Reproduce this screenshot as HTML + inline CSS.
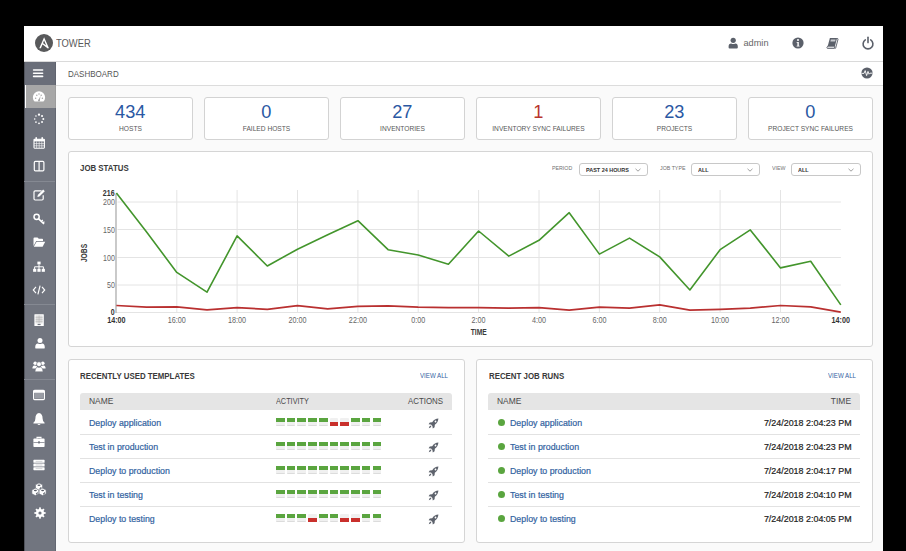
<!DOCTYPE html>
<html><head><meta charset="utf-8">
<style>
*{box-sizing:border-box;margin:0;padding:0}
html,body{width:906px;height:551px;overflow:hidden;background:#000}
body{position:relative;font-family:"Liberation Sans",sans-serif;color:#333}
.a{position:absolute}
#hdr{left:24px;top:26px;width:859px;height:36px;background:#fff;border-bottom:1.6px solid #dadada}
#side{left:24px;top:61.5px;width:32px;height:490px;background:#71757f;border-right:1.5px solid #636772;border-left:1px solid #50535b}
#crumb{left:56px;top:62px;width:827px;height:24px;background:#fff;border-bottom:1.5px solid #dcdcdc}
#content{left:56px;top:86px;width:827px;height:465px;background:#fafafa}
.card{background:#fff;border:1px solid #d3d3d3;border-radius:3px;width:125px;height:43px;top:97px;text-align:center}
.card .n{position:absolute;left:-0.5px;right:0;top:3.6px;font-size:18.2px;line-height:20px;color:#2a58a3}
.card .l{position:absolute;left:0;right:0;top:25.6px;font-size:7.9px;line-height:10px;color:#585858;transform:scaleX(0.84)}
.panel{background:#fff;border:1.2px solid #d5d5d5;border-radius:3px}
.ptitle{font-weight:bold;font-size:9.6px;color:#3a3a3a;line-height:12px;transform:scaleX(0.82);transform-origin:0 0;white-space:nowrap}
.flabel{font-size:6px;color:#707070;line-height:8px;transform:scaleX(0.88);transform-origin:0 0}
.sel{border:1px solid #c8c8c8;border-radius:3px;height:12.5px;background:#fff;font-size:6.2px;font-weight:bold;color:#333;line-height:11.2px;padding-left:6px}
.sel span{display:inline-block;transform:scaleX(0.88);transform-origin:0 0}
.sel svg{position:absolute;right:6.5px;top:3.6px}
.th{background:#e5e5e5;height:17px;border-radius:3px 3px 0 0;font-size:8.8px;color:#4a4a4a;line-height:17.6px}
.row{height:24px;border-bottom:1px solid #e1e1e1;font-size:9.2px;color:#31629f;line-height:23px}
.va{font-size:7.4px;color:#31629f;line-height:10px;transform:scaleX(0.83);transform-origin:0 0;white-space:nowrap}
.si{position:absolute;left:0;width:31px;height:23.5px}
.sep{position:absolute;left:0;width:31px;height:1px;background:#858992}
.rt{font-size:9.2px;color:#31629f;line-height:12px;white-space:nowrap;transform:scaleX(0.96);transform-origin:0 0}
.tm{font-size:9px;color:#222;line-height:12px;white-space:nowrap;transform:scaleX(0.99);transform-origin:100% 0}
.blk{width:8.7px;height:8px;background:#f0f0f0;border-bottom:1px solid #dcdcdc;border-radius:1px}
.blk i{position:absolute;left:0;right:0;height:3.8px}
.dot{width:7px;height:7px;border-radius:50%;background:#5aa53f}
.rt,.tm{-webkit-text-stroke:0.2px currentColor}
</style></head><body>
<div id="hdr" class="a"></div>
<!-- logo -->
<svg class="a" style="left:35px;top:34.2px" width="18" height="18" viewBox="0 0 18 18"><circle cx="9" cy="9" r="9" fill="#58595b"/><path d="M9.1 3.3 L4.3 14.3 H5.9 L9.1 6.6 L11.2 11.6 L7.9 9.1 L7.3 10.3 L12.5 14.2 Q13.5 14.8 13.8 13.8 Z" fill="#fff"/></svg>
<div class="a" style="left:55.9px;top:35.8px;font-size:10.8px;line-height:14px;color:#5a5a5a;transform:scaleX(0.87);transform-origin:0 0">TOWER</div>

<div id="side" class="a"></div>
<div id="crumb" class="a"></div>
<div class="a" style="left:24px;top:61.5px;width:32px;height:23.3px;background:#6a6e79;border-right:1.5px solid #60646f;border-left:1px solid #50535b"></div>
<div class="a" style="left:25px;top:84.8px;width:31px;height:23.2px;background:#a7a7a7;border-left:1.5px solid #fff;border-right:1.5px solid #9c9c9c"></div>
<div class="a sep" style="left:24px;top:181px"></div>
<div class="a sep" style="left:24px;top:304px"></div>
<div class="a sep" style="left:24px;top:379px"></div>
<svg class="a" style="left:31.00px;top:67.20px" width="14" height="12" viewBox="0 0 14 12"><g stroke="#fff" stroke-width="1.6" stroke-linecap="round"><line x1="2.6" y1="3" x2="11.6" y2="3"/><line x1="2.6" y1="6.2" x2="11.6" y2="6.2"/><line x1="2.6" y1="9.4" x2="11.6" y2="9.4"/></g></svg>
<svg class="a" style="left:31.80px;top:90.10px" width="14" height="14" viewBox="0 0 14 14"><path d="M2.6 11.6 A6.1 6.1 0 1 1 11.4 11.6 Z" fill="#fff"/><g fill="#a7a7a7"><circle cx="3.6" cy="8.2" r="0.75"/><circle cx="4.8" cy="5.2" r="0.75"/><circle cx="7" cy="4" r="0.75"/><circle cx="9.2" cy="5.2" r="0.75"/><circle cx="10.4" cy="8.2" r="0.75"/><path d="M6.2 10.6 L8.6 5.8 L7.8 10.6Z"/><circle cx="7" cy="10.4" r="1"/></g></svg>
<svg class="a" style="left:32.20px;top:112.40px" width="14" height="14" viewBox="0 0 14 14"><circle cx="7.00" cy="2.70" r="1.15" fill="#fff"/><circle cx="10.04" cy="3.96" r="1.05" fill="#fff"/><circle cx="11.30" cy="7.00" r="1.00" fill="#fff"/><circle cx="10.04" cy="10.04" r="0.95" fill="#fff"/><circle cx="7.00" cy="11.30" r="0.90" fill="#fff"/><circle cx="3.96" cy="10.04" r="0.85" fill="#fff"/><circle cx="2.70" cy="7.00" r="0.80" fill="#fff"/><circle cx="3.96" cy="3.96" r="0.80" fill="#fff"/></svg>
<svg class="a" style="left:32.20px;top:136.00px" width="14" height="14" viewBox="0 0 14 14"><rect x="2" y="3.2" width="10.4" height="9" rx="0.6" fill="none" stroke="#fff" stroke-width="1.1"/><rect x="2" y="3.2" width="10.4" height="2.2" fill="#fff"/><rect x="3.4" y="1" width="1.6" height="3" rx="0.8" fill="#fff"/><rect x="9.4" y="1" width="1.6" height="3" rx="0.8" fill="#fff"/><g stroke="#fff" stroke-width="0.6"><line x1="4.6" y1="5.4" x2="4.6" y2="12"/><line x1="7.2" y1="5.4" x2="7.2" y2="12"/><line x1="9.8" y1="5.4" x2="9.8" y2="12"/><line x1="2" y1="7.6" x2="12.4" y2="7.6"/><line x1="2" y1="9.8" x2="12.4" y2="9.8"/></g></svg>
<svg class="a" style="left:32.20px;top:159.30px" width="14" height="14" viewBox="0 0 14 14"><rect x="2.3" y="2.3" width="9.6" height="9.6" rx="1.1" fill="none" stroke="#fff" stroke-width="1.2"/><line x1="7.1" y1="2.4" x2="7.1" y2="11.8" stroke="#fff" stroke-width="1.2"/></svg>
<svg class="a" style="left:32.20px;top:188.20px" width="14" height="14" viewBox="0 0 14 14"><path d="M9.6 2.8 H3.2 Q2 2.8 2 4 V10.8 Q2 12 3.2 12 H10 Q11.2 12 11.2 10.8 V7.2" fill="none" stroke="#fff" stroke-width="1.2"/><path d="M5.4 9 L5.8 7 L11.2 1.6 L12.8 3.2 L7.4 8.6Z" fill="#fff"/></svg>
<svg class="a" style="left:32.20px;top:212.00px" width="14" height="14" viewBox="0 0 14 14"><circle cx="4.6" cy="4.8" r="2.6" fill="none" stroke="#fff" stroke-width="1.5"/><path d="M6.4 6.6 L12 12" stroke="#fff" stroke-width="1.6"/><path d="M9.4 9.4 L10.8 8 M11 11 L12.4 9.6" stroke="#fff" stroke-width="1.3"/></svg>
<svg class="a" style="left:32.00px;top:235.30px" width="14" height="14" viewBox="0 0 14 14"><path d="M1.5 3.5 Q1.5 2.5 2.5 2.5 H5.5 L6.8 3.8 H10.2 Q11 3.8 11 4.6 V6 H4.2 L1.5 11Z" fill="#fff"/><path d="M4.6 6.8 H13.2 L10.6 11.8 H1.8Z" fill="#fff"/></svg>
<svg class="a" style="left:32.20px;top:260.00px" width="14" height="14" viewBox="0 0 14 14"><rect x="5.4" y="1.6" width="3.2" height="2.8" fill="#fff"/><path d="M7 4.4 V9 M2.6 9 V6.8 H11.4 V9" fill="none" stroke="#fff" stroke-width="1"/><rect x="1.1" y="8.8" width="3.2" height="3" fill="#fff"/><rect x="5.4" y="8.8" width="3.2" height="3" fill="#fff"/><rect x="9.7" y="8.8" width="3.2" height="3" fill="#fff"/></svg>
<svg class="a" style="left:32.20px;top:283.30px" width="14" height="14" viewBox="0 0 14 14"><path d="M4 3.9 L1.3 7 L4 10.1 M10 3.9 L12.7 7 L10 10.1 M8.1 2.6 L5.9 11.4" fill="none" stroke="#fff" stroke-width="1.15"/></svg>
<svg class="a" style="left:32.40px;top:312.60px" width="14" height="14" viewBox="0 0 14 14"><rect x="2.4" y="1.2" width="9.4" height="11.8" rx="0.5" fill="#fff"/><rect x="3.6" y="2.4" width="7" height="8" fill="#dedede"/><g stroke="#b0b0b0" stroke-width="0.5"><line x1="3.6" y1="4.4" x2="10.6" y2="4.4"/><line x1="3.6" y1="6.4" x2="10.6" y2="6.4"/><line x1="3.6" y1="8.4" x2="10.6" y2="8.4"/><line x1="7.1" y1="2.4" x2="7.1" y2="10.4"/></g><rect x="5.6" y="10.9" width="3" height="1.2" fill="#71757f"/></svg>
<svg class="a" style="left:32.70px;top:335.60px" width="14" height="14" viewBox="0 0 14 14"><circle cx="7" cy="4.4" r="2.5" fill="#fff"/><path d="M2.2 11.4 Q2.2 7.6 5 7.4 Q7 8.6 9 7.4 Q11.8 7.6 11.8 11.4 Q11.8 12.6 10.6 12.6 H3.4 Q2.2 12.6 2.2 11.4Z" fill="#fff"/></svg>
<svg class="a" style="left:32.35px;top:359.00px" width="14" height="14" viewBox="0 0 14 14"><circle cx="3.2" cy="4.2" r="1.8" fill="#fff"/><circle cx="10.8" cy="4.2" r="1.8" fill="#fff"/><path d="M0.4 9.6 Q0.4 6.6 2.4 6.4 L5 7 L4.4 9.6Z M13.6 9.6 Q13.6 6.6 11.6 6.4 L9 7 L9.6 9.6Z" fill="#fff"/><circle cx="7" cy="5.2" r="2.4" fill="#fff" stroke="#71757f" stroke-width="0.6"/><path d="M3 12.8 Q3 8.4 5.6 8 Q7 8.8 8.4 8 Q11 8.4 11 12.8Z" fill="#fff" stroke="#71757f" stroke-width="0.6"/></svg>
<svg class="a" style="left:31.85px;top:388.00px" width="14" height="14" viewBox="0 0 14 14"><rect x="1.6" y="2.4" width="10.8" height="9.2" rx="1" fill="none" stroke="#fff" stroke-width="1.2"/><rect x="1.6" y="2.4" width="10.8" height="2.4" fill="#fff"/><rect x="2.6" y="5" width="8.8" height="5.6" fill="#9a9da5"/></svg>
<svg class="a" style="left:32.30px;top:411.80px" width="14" height="14" viewBox="0 0 14 14"><path d="M7 1 Q10.6 1.6 10.6 6.6 Q10.6 9.6 12.6 10.8 V11.6 H1.4 V10.8 Q3.4 9.6 3.4 6.6 Q3.4 1.6 7 1Z" fill="#fff"/><path d="M5.4 12 Q7 14 8.6 12Z" fill="#fff"/></svg>
<svg class="a" style="left:31.85px;top:434.70px" width="14" height="14" viewBox="0 0 14 14"><path d="M5 3.6 V2.4 H9 V3.6" fill="none" stroke="#fff" stroke-width="1.1"/><rect x="1.4" y="3.6" width="11.2" height="8.4" rx="0.8" fill="#fff"/><rect x="1.4" y="7" width="11.2" height="0.7" fill="#71757f"/><rect x="6" y="6.4" width="2" height="2" fill="#71757f"/></svg>
<svg class="a" style="left:32.20px;top:458.20px" width="14" height="14" viewBox="0 0 14 14"><rect x="1.4" y="1.8" width="11.2" height="3" rx="0.6" fill="#fff"/><rect x="1.4" y="5.5" width="11.2" height="3" rx="0.6" fill="#fff"/><rect x="1.4" y="9.2" width="11.2" height="3" rx="0.6" fill="#fff"/><g fill="#c8c9cc"><rect x="3.6" y="2.9" width="6.8" height="0.8"/><rect x="3.6" y="6.6" width="6.8" height="0.8"/><rect x="3.6" y="10.3" width="6.8" height="0.8"/></g></svg>
<svg class="a" style="left:31px;top:481.6px" width="16" height="14" viewBox="0 0 16 14"><path d="M4.50 2.80 L8.00 1.00 L11.50 2.80 L11.50 6.60 L8.00 8.40 L4.50 6.60Z" fill="#fff" stroke="#71757f" stroke-width="0.6"/><ellipse cx="8.00" cy="3.20" rx="1.5" ry="0.75" fill="#5a5e68"/><path d="M9.00 6.60 L10.00 5.60" stroke="#5a5e68" stroke-width="1.1" stroke-linecap="round"/><path d="M0.90 8.00 L4.40 6.20 L7.90 8.00 L7.90 11.80 L4.40 13.60 L0.90 11.80Z" fill="#fff" stroke="#71757f" stroke-width="0.6"/><ellipse cx="4.40" cy="8.40" rx="1.5" ry="0.75" fill="#5a5e68"/><path d="M5.40 11.80 L6.40 10.80" stroke="#5a5e68" stroke-width="1.1" stroke-linecap="round"/><path d="M8.10 8.00 L11.60 6.20 L15.10 8.00 L15.10 11.80 L11.60 13.60 L8.10 11.80Z" fill="#fff" stroke="#71757f" stroke-width="0.6"/><ellipse cx="11.60" cy="8.40" rx="1.5" ry="0.75" fill="#5a5e68"/><path d="M12.60 11.80 L13.60 10.80" stroke="#5a5e68" stroke-width="1.1" stroke-linecap="round"/></svg>
<svg class="a" style="left:32.60px;top:505.80px" width="14" height="14" viewBox="0 0 14 14"><g fill="#fff"><rect x="6.1" y="1.4" width="1.8" height="2.6" transform="rotate(0 7 7)"/><rect x="6.1" y="1.4" width="1.8" height="2.6" transform="rotate(45 7 7)"/><rect x="6.1" y="1.4" width="1.8" height="2.6" transform="rotate(90 7 7)"/><rect x="6.1" y="1.4" width="1.8" height="2.6" transform="rotate(135 7 7)"/><rect x="6.1" y="1.4" width="1.8" height="2.6" transform="rotate(180 7 7)"/><rect x="6.1" y="1.4" width="1.8" height="2.6" transform="rotate(225 7 7)"/><rect x="6.1" y="1.4" width="1.8" height="2.6" transform="rotate(270 7 7)"/><rect x="6.1" y="1.4" width="1.8" height="2.6" transform="rotate(315 7 7)"/><circle cx="7" cy="7" r="4"/></g><circle cx="7" cy="7" r="1.6" fill="#71757f"/></svg>
<!-- header icons -->
<svg class="a" style="left:726px;top:36px" width="14" height="14" viewBox="0 0 14 14"><circle cx="7.2" cy="4.3" r="2.6" fill="#5b606a"/><path d="M2.6 11.6 V10.4 Q2.6 7.6 5.2 7.4 Q7.2 8.4 9.2 7.4 Q11.8 7.6 11.8 10.4 V11.6 Q11.8 12.6 10.8 12.6 H3.6 Q2.6 12.6 2.6 11.6Z" fill="#5b606a"/></svg>
<div class="a" style="left:743.5px;top:37px;font-size:9.2px;line-height:12px;color:#666">admin</div>
<svg class="a" style="left:790.5px;top:36px" width="14" height="14" viewBox="0 0 14 14"><circle cx="7" cy="7" r="5.6" fill="#5b606a"/><circle cx="7" cy="4" r="1" fill="#fff"/><path d="M5.6 6 H7.8 V9.8 H8.6 V10.6 H5.6 V9.8 H6.4 V6.8 H5.6Z" fill="#fff"/></svg>
<svg class="a" style="left:825px;top:36px" width="14" height="14" viewBox="0 0 14 14"><path d="M4.9 2 H12.1 L9.9 10.2 H2.7Z" fill="#5b606a"/><path d="M5.9 3.4 H10.6 L10.1 5.4 H5.4Z" fill="#c9cbd0"/><path d="M2.7 10.2 H9.9 L9.4 12.4 H2.6 Q1.8 12.4 1.9 11.4Z" fill="#e2e3e6" stroke="#5b606a" stroke-width="0.9" stroke-linejoin="round"/><path d="M12.1 2 L13.1 3 L10.7 12 Q10.5 12.6 9.8 12.5" fill="none" stroke="#5b606a" stroke-width="0.9"/></svg>
<svg class="a" style="left:860.5px;top:36px" width="14" height="14" viewBox="0 0 14 14"><path d="M4.3 3.9 A4.9 4.9 0 1 0 9.7 3.9" fill="none" stroke="#5b606a" stroke-width="1.6" stroke-linecap="round"/><line x1="7" y1="1.2" x2="7" y2="6.6" stroke="#5b606a" stroke-width="1.6" stroke-linecap="round"/></svg>
<svg class="a" style="left:860px;top:66.2px" width="14" height="14" viewBox="0 0 14 14"><circle cx="7" cy="7" r="5.6" fill="#5b606a"/><path d="M1.6 7.4 H4 L5.2 4.6 L6.6 9.6 L8 5.4 L9 8.2 L10 7.2 H12.4" fill="none" stroke="#fff" stroke-width="0.9"/></svg>

<div id="content" class="a"></div>
<div class="a" style="left:68px;top:69px;font-size:8.4px;line-height:10px;color:#555;transform:scaleX(0.955);transform-origin:0 0">DASHBOARD</div>

<!-- cards -->
<div class="a card" style="left:68px"><div class="n">434</div><div class="l">HOSTS</div></div>
<div class="a card" style="left:204px"><div class="n">0</div><div class="l">FAILED HOSTS</div></div>
<div class="a card" style="left:340px"><div class="n">27</div><div class="l">INVENTORIES</div></div>
<div class="a card" style="left:476px"><div class="n" style="color:#b9352e">1</div><div class="l">INVENTORY SYNC FAILURES</div></div>
<div class="a card" style="left:612px"><div class="n">23</div><div class="l">PROJECTS</div></div>
<div class="a card" style="left:748px"><div class="n">0</div><div class="l">PROJECT SYNC FAILURES</div></div>

<!-- job status -->
<div class="a panel" style="left:67.7px;top:151px;width:805.3px;height:195.5px"></div>
<div class="a ptitle" style="left:80px;top:162px">JOB STATUS</div>
<div class="a flabel" style="left:552px;top:164px">PERIOD</div>
<div class="a sel" style="left:579px;top:163px;width:69px"><span>PAST 24 HOURS</span><svg width="6" height="4" viewBox="0 0 6 4"><path d="M0.5 0.8 L3 3.2 L5.5 0.8" fill="none" stroke="#777" stroke-width="0.7"/></svg></div>
<div class="a flabel" style="left:660px;top:164px">JOB TYPE</div>
<div class="a sel" style="left:691px;top:163px;width:69px"><span>ALL</span><svg width="6" height="4" viewBox="0 0 6 4"><path d="M0.5 0.8 L3 3.2 L5.5 0.8" fill="none" stroke="#777" stroke-width="0.7"/></svg></div>
<div class="a flabel" style="left:772px;top:164px">VIEW</div>
<div class="a sel" style="left:791px;top:163px;width:70px"><span>ALL</span><svg width="6" height="4" viewBox="0 0 6 4"><path d="M0.5 0.8 L3 3.2 L5.5 0.8" fill="none" stroke="#777" stroke-width="0.7"/></svg></div>

<svg class="a" style="left:0;top:0" width="906" height="551">
<g stroke="#e4e4e4" stroke-width="1">
<line x1="117.5" y1="202" x2="840.9" y2="202"/>
<line x1="117.5" y1="229.5" x2="840.9" y2="229.5"/>
<line x1="117.5" y1="257.5" x2="840.9" y2="257.5"/>
<line x1="117.5" y1="285" x2="840.9" y2="285"/>
<line x1="116" y1="312.5" x2="840.9" y2="312.5"/>
<line x1="176.8" y1="190" x2="176.8" y2="313"/>
<line x1="237.1" y1="190" x2="237.1" y2="313"/>
<line x1="297.5" y1="190" x2="297.5" y2="313"/>
<line x1="357.9" y1="190" x2="357.9" y2="313"/>
<line x1="418.2" y1="190" x2="418.2" y2="313"/>
<line x1="478.6" y1="190" x2="478.6" y2="313"/>
<line x1="539.0" y1="190" x2="539.0" y2="313"/>
<line x1="599.4" y1="190" x2="599.4" y2="313"/>
<line x1="659.7" y1="190" x2="659.7" y2="313"/>
<line x1="720.1" y1="190" x2="720.1" y2="313"/>
<line x1="780.5" y1="190" x2="780.5" y2="313"/>
</g>
<line x1="116" y1="193.5" x2="116" y2="313" stroke="#adadad" stroke-width="1.3"/>
<polyline fill="none" stroke="#b93030" stroke-width="1.7" stroke-linejoin="round" points="116.4,305.5 146.6,307.1 176.8,306.9 207.0,309.9 237.1,307.7 267.3,309.3 297.5,305.7 327.7,308.8 357.9,306.4 388.1,305.8 418.2,307.1 448.4,307.7 478.6,307.7 508.8,308.2 539.0,307.7 569.2,310.2 599.4,307.1 629.5,308.2 659.7,304.9 689.9,310.2 720.1,309.3 750.3,308.2 780.5,305.5 810.7,306.9 840.8,312.1"/>
<polyline fill="none" stroke="#43952c" stroke-width="1.6" stroke-linejoin="round" points="116.4,192.9 146.6,232.1 176.8,272.4 207.0,292.2 237.1,235.9 267.3,266.0 297.5,249.2 327.7,234.8 357.9,220.7 388.1,249.7 418.2,255.0 448.4,264.3 478.6,231.0 508.8,256.1 539.0,240.3 569.2,212.7 599.4,254.1 629.5,238.1 659.7,256.9 689.9,290.0 720.1,249.7 750.3,229.9 780.5,267.9 810.7,261.3 840.8,304.9"/>
<g font-family="Liberation Sans" font-size="8.2" fill="#666" text-anchor="end">
<text transform="translate(114.6,196.2) scale(0.86,1)" font-weight="bold" fill="#333">216</text>
<text transform="translate(114.8,205.3) scale(0.86,1)">200</text>
<text transform="translate(114.8,233.0) scale(0.86,1)">150</text>
<text transform="translate(114.8,260.6) scale(0.86,1)">100</text>
<text transform="translate(114.8,288.2) scale(0.86,1)">50</text>
<text transform="translate(114.6,315.0) scale(0.86,1)" font-weight="bold" fill="#333">0</text>
</g>
<g font-family="Liberation Sans" font-size="8.6" fill="#666" text-anchor="middle">
<text transform="translate(116.4,322.7) scale(0.84,1)" font-weight="bold" fill="#333">14:00</text>
<text transform="translate(176.8,322.7) scale(0.84,1)">16:00</text>
<text transform="translate(237.1,322.7) scale(0.84,1)">18:00</text>
<text transform="translate(297.5,322.7) scale(0.84,1)">20:00</text>
<text transform="translate(357.9,322.7) scale(0.84,1)">22:00</text>
<text transform="translate(418.2,322.7) scale(0.84,1)">0:00</text>
<text transform="translate(478.6,322.7) scale(0.84,1)">2:00</text>
<text transform="translate(539.0,322.7) scale(0.84,1)">4:00</text>
<text transform="translate(599.4,322.7) scale(0.84,1)">6:00</text>
<text transform="translate(659.7,322.7) scale(0.84,1)">8:00</text>
<text transform="translate(720.1,322.7) scale(0.84,1)">10:00</text>
<text transform="translate(780.5,322.7) scale(0.84,1)">12:00</text>
<text transform="translate(840.8,322.7) scale(0.84,1)" font-weight="bold" fill="#333">14:00</text>
</g>
<text transform="translate(478.7,334.8) scale(0.76,1)" font-family="Liberation Sans" font-size="8.8" font-weight="bold" fill="#3a3a3a" text-anchor="middle">TIME</text>
<text transform="translate(87,253) rotate(-90) scale(0.78,1)" font-family="Liberation Sans" font-size="8.6" font-weight="bold" fill="#3a3a3a" text-anchor="middle">JOBS</text>
</svg>

<!-- templates panel -->
<div class="a panel" style="left:67.7px;top:358.5px;width:397px;height:184px"></div>
<div class="a ptitle" style="left:80px;top:370px">RECENTLY USED TEMPLATES</div>
<div class="a va" style="left:420px;top:371px">VIEW ALL</div>
<div class="a th" style="left:80px;top:393px;width:372px"><span class="a" style="left:9px;transform:scaleX(0.96);transform-origin:0 0">NAME</span><span class="a" style="left:195.5px;transform:scaleX(0.83);transform-origin:0 0">ACTIVITY</span><span class="a" style="right:9px;transform:scaleX(0.9);transform-origin:100% 0">ACTIONS</span></div>


<!-- job runs panel -->
<div class="a panel" style="left:476.3px;top:358.5px;width:396.7px;height:184px"></div>
<div class="a ptitle" style="left:489px;top:370px">RECENT JOB RUNS</div>
<div class="a va" style="left:828px;top:371px">VIEW ALL</div>
<div class="a th" style="left:488px;top:393px;width:372px"><span class="a" style="left:9px;transform:scaleX(0.96);transform-origin:0 0">NAME</span><span class="a" style="right:9px;transform:scaleX(0.96);transform-origin:100% 0">TIME</span></div>

<div class="a" style="left:80px;top:410px;width:372px;height:24.6px;border-bottom:1.5px solid #e2e2e2;"></div>
<div class="a rt" style="left:89px;top:416.5px">Deploy application</div>
<div class="a blk" style="left:276.0px;top:418px"><i style="top:0;background:#5aa53f"></i></div>
<div class="a blk" style="left:286.7px;top:418px"><i style="top:0;background:#5aa53f"></i></div>
<div class="a blk" style="left:297.4px;top:418px"><i style="top:0;background:#5aa53f"></i></div>
<div class="a blk" style="left:308.2px;top:418px"><i style="top:0;background:#5aa53f"></i></div>
<div class="a blk" style="left:318.9px;top:418px"><i style="top:0;background:#5aa53f"></i></div>
<div class="a blk" style="left:329.6px;top:418px"><i style="top:4px;background:#c9302c"></i></div>
<div class="a blk" style="left:340.3px;top:418px"><i style="top:4px;background:#c9302c"></i></div>
<div class="a blk" style="left:351.0px;top:418px"><i style="top:0;background:#5aa53f"></i></div>
<div class="a blk" style="left:361.8px;top:418px"><i style="top:0;background:#5aa53f"></i></div>
<div class="a blk" style="left:372.5px;top:418px"><i style="top:0;background:#5aa53f"></i></div>
<svg class="a" style="left:428.2px;top:418.2px" width="11" height="11" viewBox="0 0 11 11"><path d="M10.4 0.6 Q6.6 0.8 4.2 4.2 L1.8 4.4 L0.6 6.2 L3 6.6 L4.4 8 L4.8 10.4 L6.6 9.2 L6.8 6.8 Q10.2 4.4 10.4 0.6Z" fill="#5d626c"/><circle cx="7.5" cy="3.5" r="0.9" fill="#fff"/><path d="M3 7.6 Q1.2 8 0.8 10.2 Q3 9.8 3.4 8Z" fill="#5d626c"/></svg>
<div class="a" style="left:488px;top:410px;width:372px;height:24.6px;border-bottom:1.5px solid #e2e2e2;"></div>
<div class="a dot" style="left:497.5px;top:418.5px"></div>
<div class="a rt" style="left:510px;top:416.5px">Deploy application</div>
<div class="a tm" style="right:54px;top:416.5px">7/24/2018 2:04:23 PM</div>
<div class="a" style="left:80px;top:434px;width:372px;height:24.6px;border-bottom:1.5px solid #e2e2e2;"></div>
<div class="a rt" style="left:89px;top:440.5px">Test in production</div>
<div class="a blk" style="left:276.0px;top:442px"><i style="top:0;background:#5aa53f"></i></div>
<div class="a blk" style="left:286.7px;top:442px"><i style="top:0;background:#5aa53f"></i></div>
<div class="a blk" style="left:297.4px;top:442px"><i style="top:0;background:#5aa53f"></i></div>
<div class="a blk" style="left:308.2px;top:442px"><i style="top:0;background:#5aa53f"></i></div>
<div class="a blk" style="left:318.9px;top:442px"><i style="top:0;background:#5aa53f"></i></div>
<div class="a blk" style="left:329.6px;top:442px"><i style="top:0;background:#5aa53f"></i></div>
<div class="a blk" style="left:340.3px;top:442px"><i style="top:0;background:#5aa53f"></i></div>
<div class="a blk" style="left:351.0px;top:442px"><i style="top:0;background:#5aa53f"></i></div>
<div class="a blk" style="left:361.8px;top:442px"><i style="top:0;background:#5aa53f"></i></div>
<div class="a blk" style="left:372.5px;top:442px"><i style="top:0;background:#5aa53f"></i></div>
<svg class="a" style="left:428.2px;top:442.2px" width="11" height="11" viewBox="0 0 11 11"><path d="M10.4 0.6 Q6.6 0.8 4.2 4.2 L1.8 4.4 L0.6 6.2 L3 6.6 L4.4 8 L4.8 10.4 L6.6 9.2 L6.8 6.8 Q10.2 4.4 10.4 0.6Z" fill="#5d626c"/><circle cx="7.5" cy="3.5" r="0.9" fill="#fff"/><path d="M3 7.6 Q1.2 8 0.8 10.2 Q3 9.8 3.4 8Z" fill="#5d626c"/></svg>
<div class="a" style="left:488px;top:434px;width:372px;height:24.6px;border-bottom:1.5px solid #e2e2e2;"></div>
<div class="a dot" style="left:497.5px;top:442.5px"></div>
<div class="a rt" style="left:510px;top:440.5px">Test in production</div>
<div class="a tm" style="right:54px;top:440.5px">7/24/2018 2:04:23 PM</div>
<div class="a" style="left:80px;top:458px;width:372px;height:24.6px;border-bottom:1.5px solid #e2e2e2;"></div>
<div class="a rt" style="left:89px;top:464.5px">Deploy to production</div>
<div class="a blk" style="left:276.0px;top:466px"><i style="top:0;background:#5aa53f"></i></div>
<div class="a blk" style="left:286.7px;top:466px"><i style="top:0;background:#5aa53f"></i></div>
<div class="a blk" style="left:297.4px;top:466px"><i style="top:0;background:#5aa53f"></i></div>
<div class="a blk" style="left:308.2px;top:466px"><i style="top:0;background:#5aa53f"></i></div>
<div class="a blk" style="left:318.9px;top:466px"><i style="top:0;background:#5aa53f"></i></div>
<div class="a blk" style="left:329.6px;top:466px"><i style="top:0;background:#5aa53f"></i></div>
<div class="a blk" style="left:340.3px;top:466px"><i style="top:0;background:#5aa53f"></i></div>
<div class="a blk" style="left:351.0px;top:466px"><i style="top:0;background:#5aa53f"></i></div>
<div class="a blk" style="left:361.8px;top:466px"><i style="top:0;background:#5aa53f"></i></div>
<div class="a blk" style="left:372.5px;top:466px"><i style="top:0;background:#5aa53f"></i></div>
<svg class="a" style="left:428.2px;top:466.2px" width="11" height="11" viewBox="0 0 11 11"><path d="M10.4 0.6 Q6.6 0.8 4.2 4.2 L1.8 4.4 L0.6 6.2 L3 6.6 L4.4 8 L4.8 10.4 L6.6 9.2 L6.8 6.8 Q10.2 4.4 10.4 0.6Z" fill="#5d626c"/><circle cx="7.5" cy="3.5" r="0.9" fill="#fff"/><path d="M3 7.6 Q1.2 8 0.8 10.2 Q3 9.8 3.4 8Z" fill="#5d626c"/></svg>
<div class="a" style="left:488px;top:458px;width:372px;height:24.6px;border-bottom:1.5px solid #e2e2e2;"></div>
<div class="a dot" style="left:497.5px;top:466.5px"></div>
<div class="a rt" style="left:510px;top:464.5px">Deploy to production</div>
<div class="a tm" style="right:54px;top:464.5px">7/24/2018 2:04:17 PM</div>
<div class="a" style="left:80px;top:482px;width:372px;height:24.6px;border-bottom:1.5px solid #e2e2e2;"></div>
<div class="a rt" style="left:89px;top:488.5px">Test in testing</div>
<div class="a blk" style="left:276.0px;top:490px"><i style="top:0;background:#5aa53f"></i></div>
<div class="a blk" style="left:286.7px;top:490px"><i style="top:0;background:#5aa53f"></i></div>
<div class="a blk" style="left:297.4px;top:490px"><i style="top:0;background:#5aa53f"></i></div>
<div class="a blk" style="left:308.2px;top:490px"><i style="top:0;background:#5aa53f"></i></div>
<div class="a blk" style="left:318.9px;top:490px"><i style="top:0;background:#5aa53f"></i></div>
<div class="a blk" style="left:329.6px;top:490px"><i style="top:0;background:#5aa53f"></i></div>
<div class="a blk" style="left:340.3px;top:490px"><i style="top:0;background:#5aa53f"></i></div>
<div class="a blk" style="left:351.0px;top:490px"><i style="top:0;background:#5aa53f"></i></div>
<div class="a blk" style="left:361.8px;top:490px"><i style="top:0;background:#5aa53f"></i></div>
<div class="a blk" style="left:372.5px;top:490px"><i style="top:0;background:#5aa53f"></i></div>
<svg class="a" style="left:428.2px;top:490.2px" width="11" height="11" viewBox="0 0 11 11"><path d="M10.4 0.6 Q6.6 0.8 4.2 4.2 L1.8 4.4 L0.6 6.2 L3 6.6 L4.4 8 L4.8 10.4 L6.6 9.2 L6.8 6.8 Q10.2 4.4 10.4 0.6Z" fill="#5d626c"/><circle cx="7.5" cy="3.5" r="0.9" fill="#fff"/><path d="M3 7.6 Q1.2 8 0.8 10.2 Q3 9.8 3.4 8Z" fill="#5d626c"/></svg>
<div class="a" style="left:488px;top:482px;width:372px;height:24.6px;border-bottom:1.5px solid #e2e2e2;"></div>
<div class="a dot" style="left:497.5px;top:490.5px"></div>
<div class="a rt" style="left:510px;top:488.5px">Test in testing</div>
<div class="a tm" style="right:54px;top:488.5px">7/24/2018 2:04:10 PM</div>
<div class="a" style="left:80px;top:506px;width:372px;height:24px;"></div>
<div class="a rt" style="left:89px;top:512.5px">Deploy to testing</div>
<div class="a blk" style="left:276.0px;top:514px"><i style="top:0;background:#5aa53f"></i></div>
<div class="a blk" style="left:286.7px;top:514px"><i style="top:0;background:#5aa53f"></i></div>
<div class="a blk" style="left:297.4px;top:514px"><i style="top:0;background:#5aa53f"></i></div>
<div class="a blk" style="left:308.2px;top:514px"><i style="top:4px;background:#c9302c"></i></div>
<div class="a blk" style="left:318.9px;top:514px"><i style="top:0;background:#5aa53f"></i></div>
<div class="a blk" style="left:329.6px;top:514px"><i style="top:0;background:#5aa53f"></i></div>
<div class="a blk" style="left:340.3px;top:514px"><i style="top:4px;background:#c9302c"></i></div>
<div class="a blk" style="left:351.0px;top:514px"><i style="top:4px;background:#c9302c"></i></div>
<div class="a blk" style="left:361.8px;top:514px"><i style="top:0;background:#5aa53f"></i></div>
<div class="a blk" style="left:372.5px;top:514px"><i style="top:0;background:#5aa53f"></i></div>
<svg class="a" style="left:428.2px;top:514.2px" width="11" height="11" viewBox="0 0 11 11"><path d="M10.4 0.6 Q6.6 0.8 4.2 4.2 L1.8 4.4 L0.6 6.2 L3 6.6 L4.4 8 L4.8 10.4 L6.6 9.2 L6.8 6.8 Q10.2 4.4 10.4 0.6Z" fill="#5d626c"/><circle cx="7.5" cy="3.5" r="0.9" fill="#fff"/><path d="M3 7.6 Q1.2 8 0.8 10.2 Q3 9.8 3.4 8Z" fill="#5d626c"/></svg>
<div class="a" style="left:488px;top:506px;width:372px;height:24px;"></div>
<div class="a dot" style="left:497.5px;top:514.5px"></div>
<div class="a rt" style="left:510px;top:512.5px">Deploy to testing</div>
<div class="a tm" style="right:54px;top:512.5px">7/24/2018 2:04:05 PM</div>
</body></html>
